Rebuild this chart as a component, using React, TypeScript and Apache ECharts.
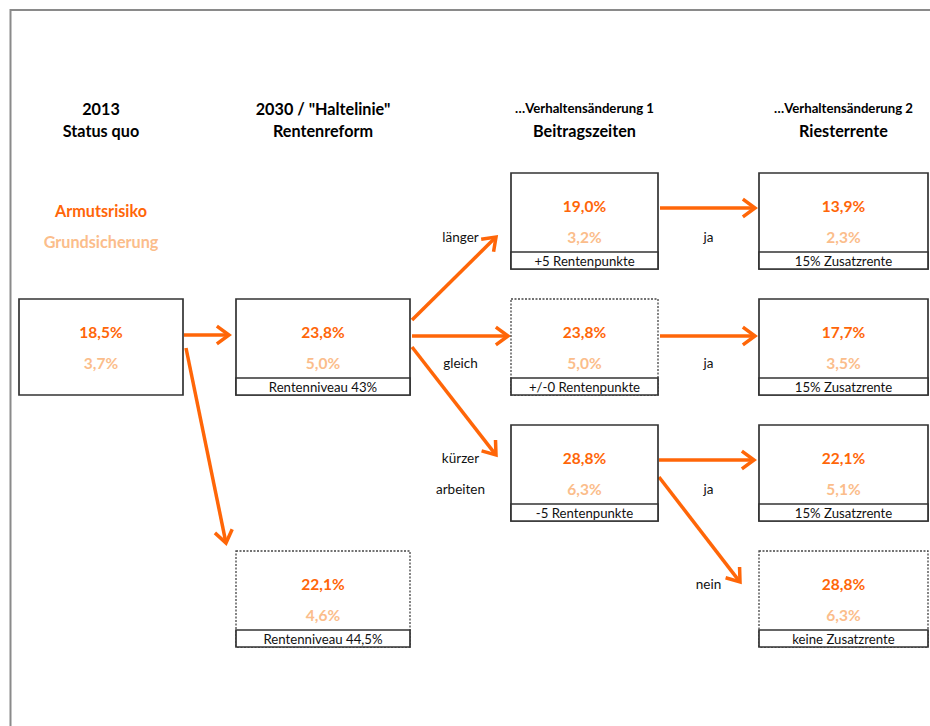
import React, { useEffect, useRef } from 'react';
import * as echarts from 'echarts';

// ---------- data ----------
const columnTitles = ['2013', '2030 / "Haltelinie"', '…Verhaltensänderung 1', '…Verhaltensänderung 2'];
const columnSubtitles = ['Status quo', 'Rentenreform', 'Beitragszeiten', 'Riesterrente'];
const legendNames = ['Armutsrisiko', 'Grundsicherung'];

const nodeCol = [0, 1, 1, 2, 2, 2, 3, 3, 3, 3];
const nodeRow = [1, 1, 3, 0, 1, 2, 0, 1, 2, 3];
const armutsrisiko = [18.5, 23.8, 22.1, 19.0, 23.8, 28.8, 13.9, 17.7, 22.1, 28.8];
const grundsicherung = [3.7, 5.0, 4.6, 3.2, 5.0, 6.3, 2.3, 3.5, 5.1, 6.3];
const nodeNotes = ['', 'Rentenniveau 43%', 'Rentenniveau 44,5%', '+5 Rentenpunkte', '+/-0 Rentenpunkte', '-5 Rentenpunkte', '15% Zusatzrente', '15% Zusatzrente', '15% Zusatzrente', 'keine Zusatzrente'];
const nodeHypothetical = [false, false, true, false, true, false, false, false, false, true];

const edgeFrom = [0, 0, 1, 1, 1, 3, 4, 5, 5];
const edgeTo = [1, 2, 3, 4, 5, 6, 7, 8, 9];
const edgeLabels = [[], [], ['länger'], ['gleich'], ['kürzer', 'arbeiten'], ['ja'], ['ja'], ['ja'], ['nein']];

// ---------- layout ----------
const W = 930;
const H = 726;
const colCenter = [101, 323, 584.5, 843.5];
const colWidth = [164, 174, 147, 169];
const rowTop = [173, 299, 425, 551];
const boxH = 96;
const stripH = 17;
const valueRowDy = [33, 64];
const titleY = 108;
const subtitleY = 130;
const legendY = [210, 241];
// [dx from source right, dy from source top]
const edgeStart = [[1, 36], [3, 49], [2, 21], [2, 37], [2, 48], [2, 35], [2, 37], [1, 35], [1, 52]];
// [dx from target left, dy from target top]
const edgeEnd = [[-7, 36], [-10, -8], [-15, 64], [-3, 37], [-15, 30], [-4, 35], [-4, 37], [-5, 35], [-19, 31]];
const edgeLabelRow = [0, 0, 1, 1, 0, 1, 1, 1, 0];

// ---------- style ----------
const FONT = 'Lato, "Open Sans", "DejaVu Sans", sans-serif';
const ORANGE = '#ff6608';
const LIGHT = '#fbbd8b';
const BOX = '#333333';

const fmt = (v: number) => v.toFixed(1).replace('.', ',') + '%';

export default function App() {
  const ref = useRef<HTMLDivElement>(null);
  useEffect(() => {
    document.body.style.margin = '0';
    const chart = echarts.init(ref.current!, null, { renderer: 'svg' });

    const nodeData = nodeCol.map((c, i) => [colCenter[c], rowTop[nodeRow[i]], armutsrisiko[i], grundsicherung[i], i]);
    const left = (i: number) => colCenter[nodeCol[i]] - colWidth[nodeCol[i]] / 2;
    const right = (i: number) => colCenter[nodeCol[i]] + colWidth[nodeCol[i]] / 2;
    const top = (i: number) => rowTop[nodeRow[i]];
    const edgeData = edgeFrom.map((f, k) => {
      const t = edgeTo[k];
      return [
        right(f) + edgeStart[k][0], top(f) + edgeStart[k][1],
        left(t) + edgeEnd[k][0], top(t) + edgeEnd[k][1],
        (right(f) + left(t)) / 2, top(t), k,
      ];
    });
    const headerData = colCenter.map((x, i) => [x, titleY, i]);

    const option: any = {
      animation: false,
      grid: { left: 0, right: 0, top: 0, bottom: 0 },
      xAxis: { type: 'value', min: 0, max: W, show: false },
      yAxis: { type: 'value', min: 0, max: H, inverse: true, show: false },
      graphic: [
        { type: 'line', shape: { x1: 10.5, y1: 10, x2: W, y2: 10 }, style: { stroke: '#8a8a8a', lineWidth: 2 } },
        { type: 'line', shape: { x1: 10.5, y1: 9, x2: 10.5, y2: H }, style: { stroke: '#8a8a8a', lineWidth: 2 } },
      ],
      series: [
        {
          type: 'custom',
          name: 'headers',
          clip: false,
          data: headerData,
          renderItem: (params: any, api: any) => {
            const i = api.value(2);
            const p = api.coord([api.value(0), api.value(1)]);
            const p2 = api.coord([api.value(0), subtitleY]);
            const small = i >= 2;
            const children: any[] = [
              { type: 'text', x: p[0], y: p[1], style: { text: columnTitles[i], fill: '#000', fontFamily: FONT, fontWeight: 'bold', fontSize: small ? 13.2 : 16.2, align: 'center', verticalAlign: 'middle' } },
              { type: 'text', x: p2[0], y: p2[1], style: { text: columnSubtitles[i], fill: '#000', fontFamily: FONT, fontWeight: 'bold', fontSize: 16.2, align: 'center', verticalAlign: 'middle' } },
            ];
            if (i === 0) {
              legendNames.forEach((n, j) => {
                const q = api.coord([api.value(0), legendY[j]]);
                children.push({ type: 'text', x: q[0], y: q[1], style: { text: n, fill: j === 0 ? ORANGE : LIGHT, fontFamily: FONT, fontWeight: 'bold', fontSize: 16.2, align: 'center', verticalAlign: 'middle' } });
              });
            }
            return { type: 'group', children };
          },
        },
        {
          type: 'custom',
          name: 'edges',
          clip: false,
          data: edgeData,
          renderItem: (params: any, api: any) => {
            const k = api.value(6);
            const s = api.coord([api.value(0), api.value(1)]);
            const e = api.coord([api.value(2), api.value(3)]);
            const dx = e[0] - s[0];
            const dy = e[1] - s[1];
            const len = Math.sqrt(dx * dx + dy * dy);
            const ux = dx / len;
            const uy = dy / len;
            const L = 15;
            const th = (36 * Math.PI) / 180;
            const rot = (a: number) => [ux * Math.cos(a) - uy * Math.sin(a), ux * Math.sin(a) + uy * Math.cos(a)];
            const r1 = rot(th);
            const r2 = rot(-th);
            const a1 = [e[0] - L * r1[0], e[1] - L * r1[1]];
            const a2 = [e[0] - L * r2[0], e[1] - L * r2[1]];
            const lineStyle = { stroke: ORANGE, lineWidth: 3.5, fill: null, lineJoin: 'miter', lineCap: 'butt' };
            const children: any[] = [
              { type: 'line', shape: { x1: s[0], y1: s[1], x2: e[0] - ux * 1.5, y2: e[1] - uy * 1.5 }, style: lineStyle },
              { type: 'polyline', shape: { points: [a1, e, a2] }, style: lineStyle },
            ];
            edgeLabels[k].forEach((txt: string, j: number) => {
              const q = api.coord([api.value(4), api.value(5) + valueRowDy[edgeLabelRow[k] + j]]);
              children.push({ type: 'text', x: q[0], y: q[1], style: { text: txt, fill: '#111', fontFamily: FONT, fontSize: 13.5, align: 'center', verticalAlign: 'middle' } });
            });
            return { type: 'group', children };
          },
        },
        {
          type: 'custom',
          name: 'nodes',
          clip: false,
          data: nodeData,
          renderItem: (params: any, api: any) => {
            const i = api.value(4);
            const w = api.size([colWidth[nodeCol[i]], 0])[0];
            const h = api.size([0, boxH])[1];
            const sh = api.size([0, stripH])[1];
            const c = api.coord([api.value(0), api.value(1)]);
            const x0 = c[0] - w / 2;
            const y0 = c[1];
            const children: any[] = [];
            if (nodeHypothetical[i]) {
              children.push({ type: 'rect', shape: { x: x0, y: y0, width: w, height: h }, style: { fill: '#fff', stroke: '#444', lineWidth: 1.3, lineDash: [2, 1.5] } });
            } else {
              children.push({ type: 'rect', shape: { x: x0, y: y0, width: w, height: h }, style: { fill: '#fff', stroke: BOX, lineWidth: 1.7 } });
            }
            if (nodeNotes[i]) {
              children.push({ type: 'rect', shape: { x: x0, y: y0 + h - sh, width: w, height: sh }, style: { fill: '#fff', stroke: BOX, lineWidth: 1.7 } });
              children.push({ type: 'text', x: c[0], y: y0 + h - sh / 2 + 0.5, style: { text: nodeNotes[i], fill: '#111', fontFamily: FONT, fontSize: 13.2, align: 'center', verticalAlign: 'middle' } });
            }
            const p1 = api.coord([api.value(0), api.value(1) + valueRowDy[0]]);
            const p2 = api.coord([api.value(0), api.value(1) + valueRowDy[1]]);
            children.push({ type: 'text', x: p1[0], y: p1[1], style: { text: fmt(api.value(2)), fill: ORANGE, fontFamily: FONT, fontWeight: 'bold', fontSize: 15.5, align: 'center', verticalAlign: 'middle' } });
            children.push({ type: 'text', x: p2[0], y: p2[1], style: { text: fmt(api.value(3)), fill: LIGHT, fontFamily: FONT, fontWeight: 'bold', fontSize: 15.5, align: 'center', verticalAlign: 'middle' } });
            return { type: 'group', children };
          },
        },
      ],
    };
    chart.setOption(option);
    return () => chart.dispose();
  }, []);
  return <div ref={ref} style={{ width: W, height: H }} />;
}
